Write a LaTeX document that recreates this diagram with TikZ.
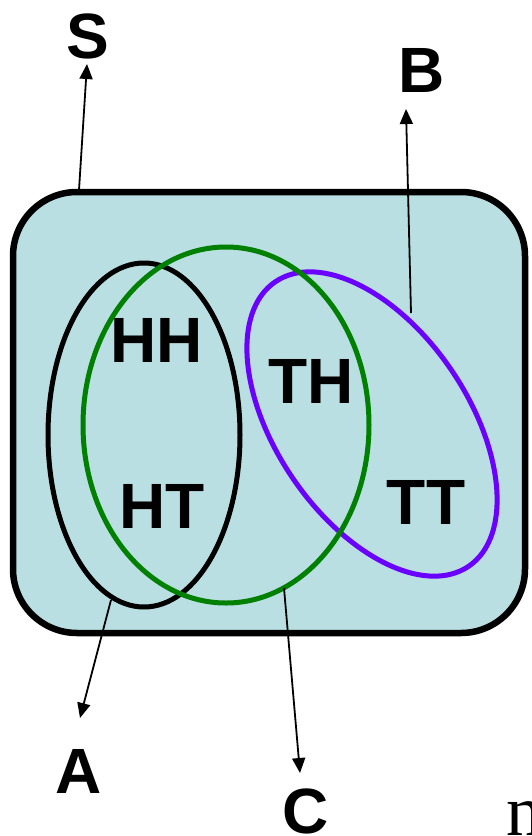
\documentclass[tikz,border=0pt]{standalone}
\usepackage{fontspec}
\setmainfont{Liberation Sans}
\newfontfamily\serifn{Liberation Serif}
\usetikzlibrary{arrows.meta}
\definecolor{boxfill}{HTML}{B9DFE2}
\definecolor{setgreen}{HTML}{008000}
\definecolor{setpurple}{HTML}{6A00FF}
\begin{document}
\begin{tikzpicture}[x=1pt,y=-1pt,
  lbl/.style={inner sep=0pt, font=\fontsize{64}{64}\selectfont\bfseries},
  setline/.style={line width=5pt},
  ptr/.style={line width=1.8pt, -{Triangle[length=15pt,width=13pt]}}]
\path[use as bounding box, clip] (0,0) rectangle (531,836);
\fill[white] (0,0) rectangle (531,836);
% sample space
\draw[line width=6.5pt, fill=boxfill, rounded corners=64pt] (13,192) rectangle (525,633);
% events
\draw[setline, black] (144,435) ellipse [x radius=96pt, y radius=172pt];
\draw[setline, setpurple, rotate around={-55.8:(372,424)}] (372,424) ellipse [x radius=172pt, y radius=96pt];
\draw[setline, setgreen] (226,425) ellipse [x radius=143pt, y radius=178pt];
% outcomes
\node[lbl] (hh) at (157,340) {HH};
\node[lbl] (th) at (311,381) {TH};
\node[lbl] (ht) at (162,506) {HT};
\node[lbl] (tt) at (426,502) {TT};
% labels
\node[lbl] (S) at (88,36) {S};
\node[lbl] (B) at (422,70) {B};
\node[lbl] (A) at (79,771) {A};
\node[lbl] (C) at (306,811) {C};
\node[inner sep=0pt, anchor=base west, font=\fontsize{72}{72}\selectfont\serifn] (n) at (506,835) {n};
% connector ends
\coordinate (s0) at (79,190);
\coordinate (s1) at (87,64);
\coordinate (b0) at (411,313);
\coordinate (b1) at (406,109);
\coordinate (a0) at (111,600);
\coordinate (a1) at (80,718);
\coordinate (c0) at (284,588);
\coordinate (c1) at (300,773);
\draw[ptr] (s0) -- (s1);
\draw[ptr] (b0) -- (b1);
\draw[ptr] (a0) -- (a1);
\draw[ptr] (c0) -- (c1);
\end{tikzpicture}
\end{document}
